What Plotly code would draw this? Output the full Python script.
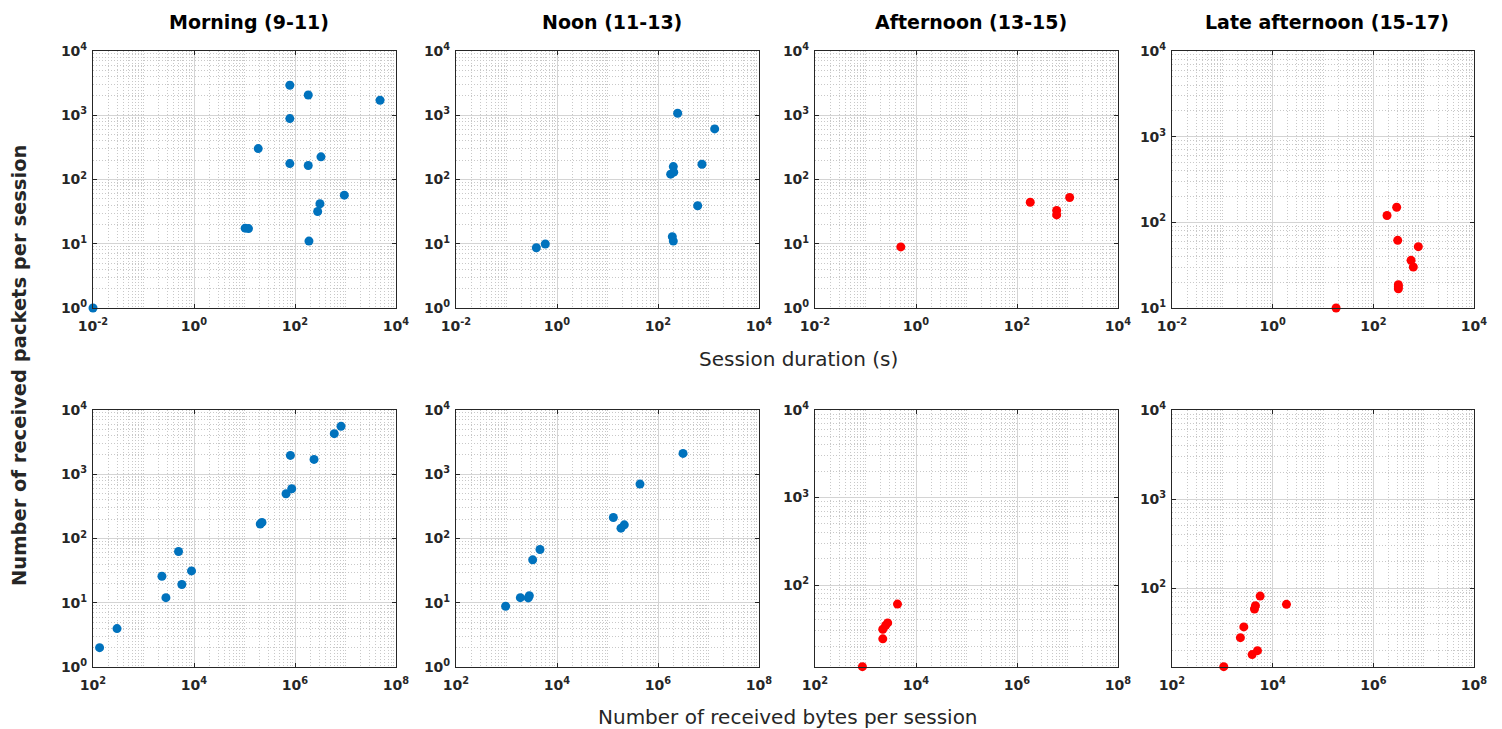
import plotly.graph_objects as go
import numpy as np

# page body has an 8px margin; the figure is sized to fill the rest of the window
OFF = 8
W, H = 1502 - OFF, 729 - OFF

titles = ["Morning (9-11)", "Noon (11-13)", "Afternoon (13-15)", "Late afternoon (15-17)"]

# Top row: session duration (s) vs packets per session
morning_dur = [0.01, 79, 183, 4830, 79, 18.7, 79, 183, 327, 948, 312, 281, 10.3, 12.0, 189]
morning_pkts_dur = [1.0, 2925, 2070, 1710, 888, 303, 177, 165, 225, 57, 41.9, 31.8, 17.5, 17.2, 11]
noon_dur = [0.39, 0.587, 245, 1325, 201, 178, 205, 743, 610, 192, 201]
noon_pkts_dur = [8.67, 9.9, 1075, 613, 159, 121, 130, 173, 39, 12.9, 11]
afternoon_dur = [0.5, 183, 610, 610, 1104]
afternoon_pkts_dur = [8.93, 44.3, 32.9, 28.1, 52.4]
late_dur = [18.2, 187, 291, 305, 783, 561, 623, 314, 314, 314]
late_pkts_dur = [10, 120, 150, 61.6, 52, 36, 30.1, 18.7, 17.7, 16.8]

# Bottom row: received bytes vs packets per session
morning_bytes = [135, 299, 2318, 2780, 4940, 5750, 8930, 205000, 222000, 665000, 861000, 811000, 2.38e6, 6.0e6, 8.15e6]
morning_pkts_bytes = [2.0, 3.96, 25.9, 12.0, 62.7, 19.2, 31.3, 168, 178, 497, 595, 1966, 1703, 4280, 5565]
noon_bytes = [961, 1880, 2700, 2830, 3300, 4600, 130600, 185000, 215000, 440000, 3.13e6]
noon_pkts_bytes = [8.82, 12.0, 11.9, 12.9, 46.5, 67.4, 212, 145, 163, 703, 2112]
afternoon_bytes = [869, 2200, 2200, 2500, 2750, 4300]
afternoon_pkts_bytes = [11.7, 31.3, 24.3, 34.5, 37, 60.7]
late_bytes = [1067, 2285, 2670, 3910, 4990, 4350, 4550, 5640, 18800]
late_pkts_bytes = [13.1, 27.7, 36.6, 17.9, 19.8, 58.1, 63.4, 81.3, 65.6]

dur_ticks = [1e-2, 1e0, 1e2, 1e4]
dur_ticktext = ["10<sup>-2</sup>", "10<sup>0</sup>", "10<sup>2</sup>", "10<sup>4</sup>"]
bytes_ticks = [1e2, 1e4, 1e6, 1e8]
bytes_ticktext = ["10<sup>2</sup>", "10<sup>4</sup>", "10<sup>6</sup>", "10<sup>8</sup>"]
pkts_ticks = [1e0, 1e1, 1e2, 1e3, 1e4]
pkts_ticktext = ["10<sup>0</sup>", "10<sup>1</sup>", "10<sup>2</sup>", "10<sup>3</sup>", "10<sup>4</sup>"]

BLUE = "#0072BD"
RED = "#FF0000"

top_data = [(morning_dur, morning_pkts_dur, BLUE), (noon_dur, noon_pkts_dur, BLUE),
            (afternoon_dur, afternoon_pkts_dur, RED), (late_dur, late_pkts_dur, RED)]
bot_data = [(morning_bytes, morning_pkts_bytes, BLUE), (noon_bytes, noon_pkts_bytes, BLUE),
            (afternoon_bytes, afternoon_pkts_bytes, RED), (late_bytes, late_pkts_bytes, RED)]

top_yrange = [[0, 4], [0, 4], [0, 4], [1, 4]]
bot_yrange = [[0, 4], [0, 4],
              [np.log10(min(afternoon_pkts_bytes)) - 0.004, 4],
              [np.log10(min(late_pkts_bytes)) - 0.004, 4]]

# target pixel positions in the 1502x729 window
xpx = [(93, 396), (456, 759), (815, 1118), (1172, 1474)]
ypx_top = (51, 308)
ypx_bot = (410, 667)

def fx(px):
    return (px - OFF) / W

def fy(py):
    return 1 - (py - OFF) / H

def minor_vals(lo, hi, majors):
    vals = []
    for e in range(lo, hi):
        for k in range(1, 10):
            v = k * 10.0 ** e
            if v not in majors:
                vals.append(v)
    return vals

fig = go.Figure()
tickfont = dict(family="DejaVu Sans", size=14, color="#262626", weight="bold")

def axis_common():
    return dict(type="log", showline=True, linecolor="#262626", linewidth=1, mirror="ticks",
                ticks="inside", ticklen=4, tickcolor="#262626", tickfont=tickfont,
                showgrid=True, gridcolor="#d4d4d4", gridwidth=1, zeroline=False)

MINOR_GRID = dict(showgrid=True, gridcolor="#c8c8c8", griddash="1px,2px", gridwidth=1, ticks="")

idx = 0
for row, (data, yr, ypx, xt, xtt, xr) in enumerate([
        (top_data, top_yrange, ypx_top, dur_ticks, dur_ticktext, [-2, 4]),
        (bot_data, bot_yrange, ypx_bot, bytes_ticks, bytes_ticktext, [2, 8])]):
    for col in range(4):
        idx += 1
        xs, ys, color = data[col]
        xa = "x" if idx == 1 else f"x{idx}"
        ya = "y" if idx == 1 else f"y{idx}"
        fig.add_trace(go.Scatter(x=xs, y=ys, mode="markers", xaxis=xa, yaxis=ya,
                                 marker=dict(color=color, size=9, line=dict(width=0)),
                                 cliponaxis=False, showlegend=False))
        xd = [fx(xpx[col][0]), fx(xpx[col][1])]
        yd = [fy(ypx[1]), fy(ypx[0])]
        xaxis = axis_common()
        xaxis.update(domain=xd, range=xr, anchor=ya, tickvals=xt, ticktext=xtt,
                     ticklabelstandoff=5,
                     minor=dict(tickvals=minor_vals(xr[0], xr[1], xt), **MINOR_GRID))
        yaxis = axis_common()
        yaxis.update(domain=yd, range=yr[col], anchor=xa, tickvals=pkts_ticks, ticktext=pkts_ticktext,
                     ticklabelstandoff=2,
                     minor=dict(tickvals=minor_vals(0, 4, pkts_ticks), **MINOR_GRID))
        key = "" if idx == 1 else str(idx)
        fig.layout["xaxis" + key] = xaxis
        fig.layout["yaxis" + key] = yaxis

annotations = []
for col in range(4):
    cx = fx((xpx[col][0] + xpx[col][1]) / 2 + 4)
    annotations.append(dict(text=f"<b>{titles[col]}</b>", x=cx, y=fy(22), xref="paper", yref="paper",
                            showarrow=False, xanchor="center", yanchor="middle",
                            font=dict(family="DejaVu Sans", size=19, color="#000000")))
annotations.append(dict(text="Session duration (s)", x=fx(798), y=fy(359), xref="paper", yref="paper",
                        showarrow=False, xanchor="center", yanchor="middle",
                        font=dict(family="DejaVu Sans", size=20, color="#262626")))
annotations.append(dict(text="Number of received bytes per session", x=fx(788), y=fy(717), xref="paper",
                        yref="paper", showarrow=False, xanchor="center", yanchor="middle",
                        font=dict(family="DejaVu Sans", size=20, color="#262626")))
annotations.append(dict(text="<b>Number of received packets per session</b>", x=fx(19), y=fy(366),
                        xref="paper", yref="paper", showarrow=False, xanchor="center", yanchor="middle",
                        textangle=-90, font=dict(family="DejaVu Sans", size=19.5, color="#262626")))

fig.update_layout(width=W, height=H, margin=dict(l=0, r=0, t=0, b=0, autoexpand=False),
                  paper_bgcolor="white", plot_bgcolor="white", annotations=annotations,
                  showlegend=False)

fig.write_html("out.html")
